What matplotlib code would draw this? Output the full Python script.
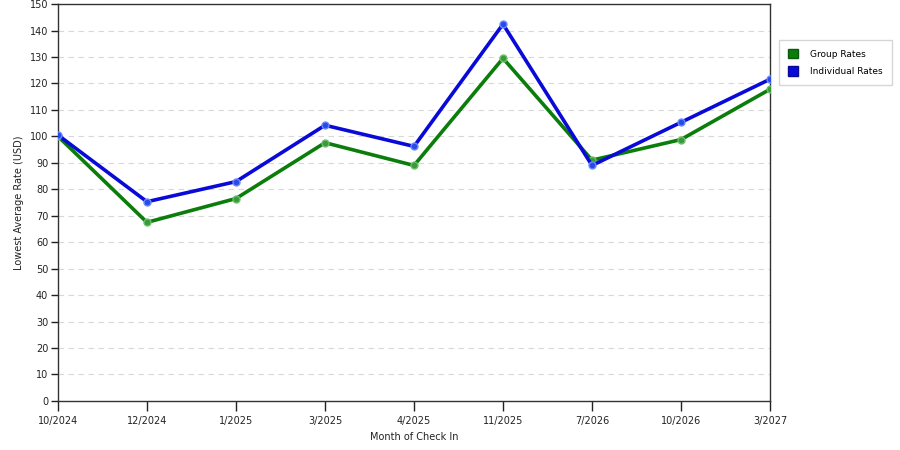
import matplotlib.pyplot as plt
from matplotlib.patches import Patch

months = ["10/2024", "12/2024", "1/2025", "3/2025", "4/2025", "11/2025", "7/2026", "10/2026", "3/2027"]
group_rates = [100.0, 67.5, 76.5, 97.6, 89.0, 129.5, 91.0, 98.8, 117.8]
individual_rates = [100.5, 75.3, 82.9, 104.2, 96.2, 142.4, 89.0, 105.3, 121.6]

green = "#0a7d0a"
blue = "#0a0ad8"

fig = plt.figure(figsize=(9, 4.5), dpi=100)
ax = fig.add_axes([0.0644, 0.109, 0.7912, 0.882])

x = list(range(len(months)))
ax.plot(x, group_rates, color=green, lw=2.6, marker="o", ms=5,
        mfc="#3a9a3a", mec="#6cbf6c", mew=1, zorder=3)
ax.plot(x, individual_rates, color=blue, lw=2.6, marker="o", ms=5,
        mfc="#2a4ae8", mec="#6a8aff", mew=1, zorder=4)

ax.set_xlim(0, len(months) - 1)
ax.set_ylim(0, 150)
ax.set_yticks(range(0, 151, 10))
ax.set_xticks(x)
ax.set_xticklabels(months)
ax.grid(axis="y", color="#d8d8d8", linestyle=(0, (5, 4)), lw=0.8)
ax.set_axisbelow(True)

ax.tick_params(axis="x", length=7, width=1, labelsize=7, pad=4, colors="#222222")
ax.tick_params(axis="y", length=5, width=1, labelsize=7, pad=2, colors="#222222")
for s in ax.spines.values():
    s.set_color("#333333")
    s.set_linewidth(1)

ax.set_xlabel("Month of Check In", fontsize=7, color="#222222")
ax.set_ylabel("Lowest Average Rate (USD)", fontsize=7, color="#222222")

handles = [Patch(facecolor=green, edgecolor="#0a5a0a", label="Group Rates"),
           Patch(facecolor=blue, edgecolor="#0a0a90", label="Individual Rates")]
leg = fig.legend(handles=handles, loc="upper left", bbox_to_anchor=(0.865, 0.912),
                 prop={"size": 6.5}, frameon=True, fancybox=False, edgecolor="#cccccc",
                 handlelength=1.2, handleheight=1.3, handletextpad=1.3,
                 borderpad=1.0, labelspacing=0.8, borderaxespad=0)

fig.savefig("out.png", dpi=100)
